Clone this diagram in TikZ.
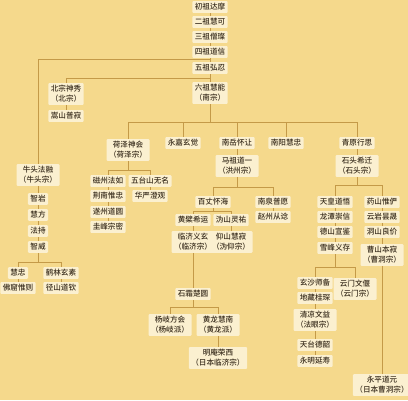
\documentclass[tikz,border=0pt]{standalone}
\usepackage{fontspec}
\setmainfont{Noto Sans CJK SC}[UprightFont=* Medium]
\definecolor{bgc}{HTML}{F5D98C}
\definecolor{boxc}{HTML}{FBF0D0}
\definecolor{linec}{HTML}{C49A48}
\definecolor{txtc}{HTML}{3A2E1E}
\pgfdeclarelayer{bglayer}
\pgfdeclarelayer{edgelayer}
\pgfsetlayers{bglayer,edgelayer,main}
\begin{document}
\begin{tikzpicture}[x=1pt,y=-1pt,
  box/.style={fill=boxc, text=txtc, font=\fontsize{7.6}{10}\selectfont,
    inner xsep=2.5pt, inner ysep=2.3pt, align=center, rounded corners=1pt},
  conn/.style={draw=linec, line width=0.6pt}]
\begin{pgfonlayer}{bglayer}
\fill[bgc] (0,0) rectangle (408,400);
\end{pgfonlayer}
\useasboundingbox (0,0) rectangle (408,400);
% spine
\node[box] (chuzu) at (210,7) {初祖达摩};
\node[box] (erzu) at (210,22) {二祖慧可};
\node[box] (sanzu) at (210,37) {三祖僧璨};
\node[box] (sizu) at (210,52) {四祖道信};
\node[box] (wuzu) at (210,68) {五祖弘忍};
\node[box] (beizong) at (66,94) {北宗神秀\\（北宗）};
\node[box] (songshan) at (66,116) {嵩山普寂};
\node[box] (liuzu) at (210,93) {六祖慧能\\（南宗）};
% sixth patriarch disciples
\node[box] (heze) at (128,150) {荷泽神会\\（荷泽宗）};
\node[box] (yongjia) at (183,143) {永嘉玄觉};
\node[box] (nanyue) at (237,143) {南岳怀让};
\node[box] (mazu) at (237,166) {马祖道一\\（洪州宗）};
\node[box] (nanyang) at (286,143) {南阳慧忠};
\node[box] (qingyuan) at (357,143) {青原行思};
\node[box] (shitou) at (357,166) {石头希迁\\（石头宗）};
% niutou
\node[box] (niutou) at (38,175) {牛头法融\\（牛头宗）};
\node[box] (zhiyan) at (38,199) {智岩};
\node[box] (huifang) at (38,215) {慧方};
\node[box] (fachi) at (38,231) {法持};
\node[box] (zhiwei) at (38,247) {智威};
\node[box] (huizhong) at (18,273) {慧忠};
\node[box] (helin) at (61,273) {鹤林玄素};
\node[box] (foku) at (18,288) {佛窟惟则};
\node[box] (jingshan) at (61,288) {径山道钦};
% heze
\node[box] (cizhou) at (108,181) {磁州法如};
\node[box] (jingnan) at (108,196) {荆南惟忠};
\node[box] (suizhou) at (108,212) {遂州道圆};
\node[box] (guifeng) at (108,227) {圭峰宗密};
\node[box] (wutai) at (150,181) {五台山无名};
\node[box] (huayan) at (150,196) {华严澄观};
% mazu
\node[box] (baizhang) at (213,202) {百丈怀海};
\node[box] (nanquan) at (273,202) {南泉普愿};
\node[box] (zhaozhou) at (273,217) {赵州从谂};
\node[box] (huangbo) at (193,220) {黄檗希运};
\node[box] (weishan) at (231,220) {沩山灵祐};
\node[box] (linji) at (193,242) {临济义玄\\（临济宗）};
\node[box] (yangshan) at (231,242) {仰山慧寂\\（沩仰宗）};
\node[box] (shishuang) at (193,294) {石霜楚圆};
\node[box] (yangqi) at (170,325) {杨岐方会\\（杨岐派）};
\node[box] (huanglong) at (218,325) {黄龙慧南\\（黄龙派）};
\node[box] (mingan) at (218,358) {明庵荣西\\（日本临济宗）};
% shitou
\node[box] (tianhuang) at (335,202) {天皇道悟};
\node[box] (longtan) at (335,217) {龙潭崇信};
\node[box] (deshan) at (335,232) {德山宣鉴};
\node[box] (xuefeng) at (335,248) {雪峰义存};
\node[box] (yaoshan) at (382,202) {药山惟俨};
\node[box] (yunyan) at (382,217) {云岩昙晟};
\node[box] (dongshan) at (382,232) {洞山良价};
\node[box] (caoshan) at (382,255) {曹山本寂\\（曹洞宗）};
\node[box] (xuansha) at (315,283) {玄沙师备};
\node[box] (yunmen) at (355,289) {云门文偃\\（云门宗）};
\node[box] (dizang) at (315,298) {地藏桂琛};
\node[box] (qingliang) at (315,320) {清凉文益\\（法眼宗）};
\node[box] (tiantai) at (315,345) {天台德韶};
\node[box] (yongming) at (315,361) {永明延寿};
\node[box] (yongping) at (382,385) {永平道元\\（日本曹洞宗）};
% junctions
\coordinate (j0) at (210,59);
\coordinate (j1) at (210,78);
\coordinate (j2) at (210,122);
\coordinate (j3) at (128,170);
\coordinate (j4) at (38,262);
\coordinate (j5) at (237,187);
\coordinate (j6) at (213,211);
\coordinate (j7) at (193,307);
\coordinate (j8) at (357,185);
\coordinate (j9) at (335,267);
\begin{pgfonlayer}{edgelayer}
\draw[conn] (chuzu) -- (erzu) -- (sanzu) -- (sizu) -- (wuzu) -- (liuzu);
\draw[conn] (j0) -| (niutou.north);
\draw[conn] (j1) -| (beizong.north);
\draw[conn] (beizong) -- (songshan);
\draw[conn] (liuzu.south) -- (j2);
\draw[conn] (j2) -| (heze.north);
\draw[conn] (j2) -| (yongjia.north);
\draw[conn] (j2) -| (nanyue.north);
\draw[conn] (j2) -| (nanyang.north);
\draw[conn] (j2) -| (qingyuan.north);
\draw[conn] (nanyue) -- (mazu);
\draw[conn] (qingyuan) -- (shitou);
\draw[conn] (niutou) -- (zhiyan) -- (huifang) -- (fachi) -- (zhiwei);
\draw[conn] (zhiwei.south) -- (j4);
\draw[conn] (j4) -| (huizhong.north);
\draw[conn] (j4) -| (helin.north);
\draw[conn] (huizhong) -- (foku);
\draw[conn] (helin) -- (jingshan);
\draw[conn] (heze.south) -- (j3);
\draw[conn] (j3) -| (cizhou.north);
\draw[conn] (j3) -| (wutai.north);
\draw[conn] (cizhou) -- (jingnan) -- (suizhou) -- (guifeng);
\draw[conn] (wutai) -- (huayan);
\draw[conn] (mazu.south) -- (j5);
\draw[conn] (j5) -| (baizhang.north);
\draw[conn] (j5) -| (nanquan.north);
\draw[conn] (nanquan) -- (zhaozhou);
\draw[conn] (baizhang.south) -- (j6);
\draw[conn] (j6) -| (huangbo.north);
\draw[conn] (j6) -| (weishan.north);
\draw[conn] (huangbo) -- (linji);
\draw[conn] (weishan) -- (yangshan);
\draw[conn] (linji) -- (shishuang);
\draw[conn] (shishuang.south) -- (j7);
\draw[conn] (j7) -| (yangqi.north);
\draw[conn] (j7) -| (huanglong.north);
\draw[conn] (huanglong) -- (mingan);
\draw[conn] (shitou.south) -- (j8);
\draw[conn] (j8) -| (tianhuang.north);
\draw[conn] (j8) -| (yaoshan.north);
\draw[conn] (tianhuang) -- (longtan) -- (deshan) -- (xuefeng);
\draw[conn] (xuefeng.south) -- (j9);
\draw[conn] (j9) -| (xuansha.north);
\draw[conn] (j9) -| (yunmen.north);
\draw[conn] (xuansha) -- (dizang) -- (qingliang) -- (tiantai) -- (yongming);
\draw[conn] (yaoshan) -- (yunyan) -- (dongshan) -- (caoshan) -- (yongping);
\end{pgfonlayer}
\end{tikzpicture}
\end{document}
